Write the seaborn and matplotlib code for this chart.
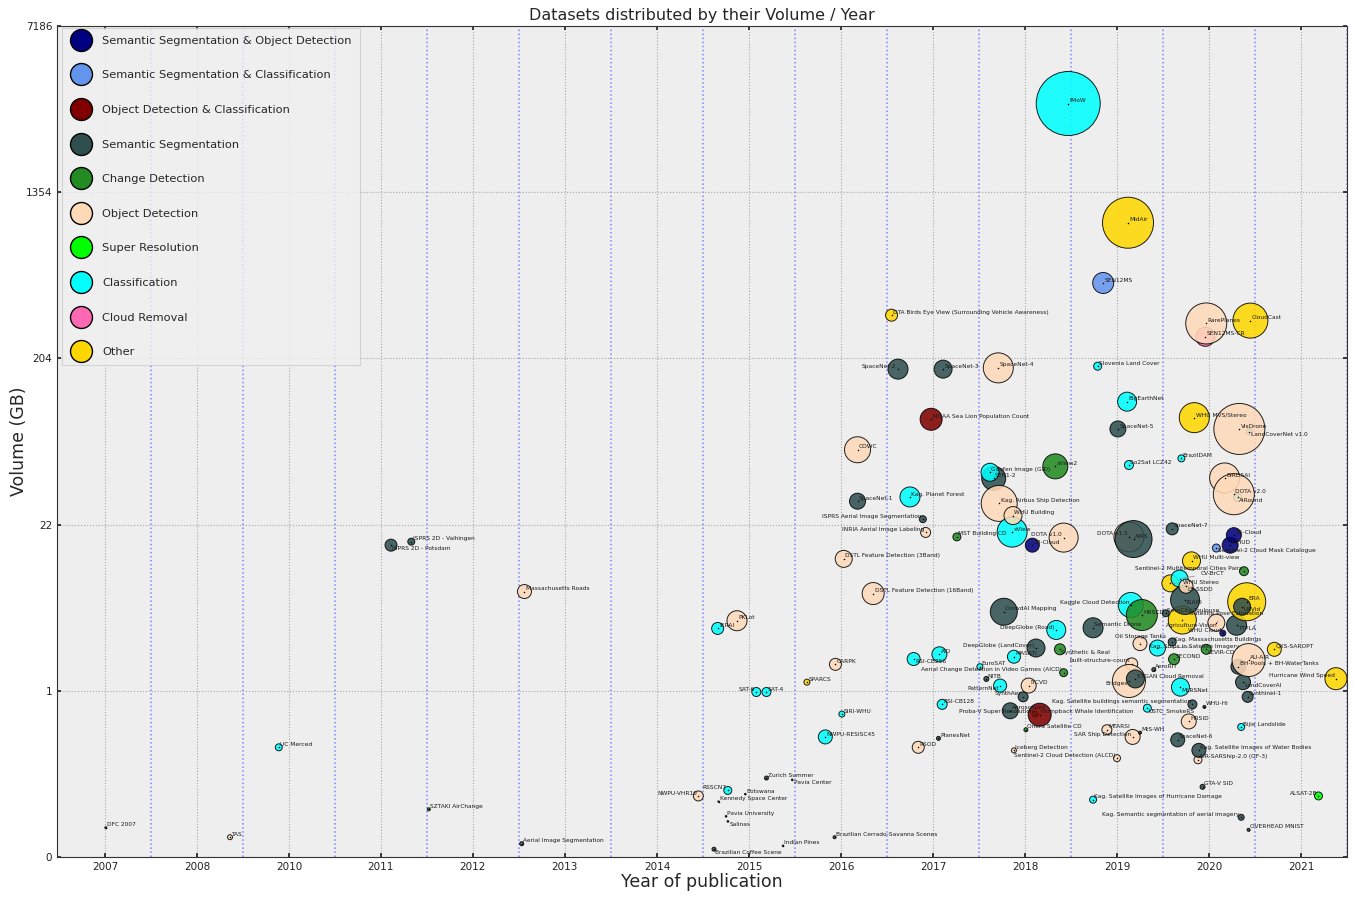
import matplotlib
matplotlib.use("Agg")
import matplotlib.pyplot as plt
from matplotlib.lines import Line2D
import numpy as np
import pandas as pd
import seaborn as sns

# y axis ticks (GB) and x axis tick labels as printed on the chart
vol_ticks = [0, 1, 22, 204, 1354, 7186]
year_ticks = list(range(2007, 2021))
year_labels = ["2007", "2008", "2010", "2011", "2012", "2013", "2014",
               "2015", "2016", "2017", "2018", "2019", "2020", "2021"]

categories = ["Semantic Segmentation & Object Detection",
              "Semantic Segmentation & Classification",
              "Object Detection & Classification",
              "Semantic Segmentation",
              "Change Detection",
              "Object Detection",
              "Super Resolution",
              "Classification",
              "Cloud Removal",
              "Other"]
colors = ["navy", "cornflowerblue", "maroon", "darkslategray", "forestgreen",
          "peachpuff", "lime", "cyan", "hotpink", "gold"]
short = ["SSOD", "SSCL", "ODCL", "SS", "CD", "OD", "SR", "CL", "CR", "OT"]

# datasets in drawing order
names = ["DFC 2007", "TAS", "UC Merced", "ISPRS 2D - Potsdam", "ISPRS 2D - Vaihingen",
         "SZTAKI AirChange", "Aerial Image Segmentation", "Massachusetts Roads", "NWPU-VHR10",
         "Brazilian Coffee Scene", "IERAI", "Kennedy Space Center", "Pavia University",
         "Salinas", "RSSCN7", "PKLot", "Botswana", "SAT-6", "SAT-4", "Zurich Summer",
         "Indian Pines", "Pavia Center", "SPARCS", "NWPU-RESISC45",
         "Brazilian Cerrado-Savanna Scenes", "CARPK", "SIRI-WHU",
         "DSTL Feature Detection (3Band)", "COWC", "SpaceNet-1",
         "DSTL Feature Detection (16Band)",
         "DTA Birds Eye View (Surrounding Vehicle Awareness)", "SpaceNet-2",
         "Kag. Planet Forest", "RSI-CB256", "RSOD", "ISPRS Aerial Image Segmentation",
         "INRIA Aerial Image Labeling", "NOAA Sea Lion Population Count", "PlanesNet", "AID",
         "RSI-CB128", "SpaceNet-3", "MST Building CD", "EuroSAT", "NITB", "SEN1-2",
         "Gaofen Image (GID)", "SpaceNet-4", "Kag. Airbus Ship Detection", "xView",
         "WHU Building", "PatternNet", "CrowdAI Mapping", "Aeroscapes", "MASATI",
         "Iceberg Detection", "SynthAer", "Onera Satellite CD", "ITCVD", "38-Cloud",
         "Proba-V Super Resolution", "DeepGlobe (LandCover)", "Humpback Whale Identification",
         "xView2", "DeepGlobe (Road)", "Synthetic & Real", "DOTA v1.0",
         "Aerial Change Detection in Video Games (AICD)", "fMoW", "Semantic Drone",
         "Kag. Satellite Images of Hurricane Damage", "Slovenia Land Cover", "SEN12MS",
         "MTARSI", "Sentinel-2 Cloud Detection (ALCD)", "SpaceNet-5", "BigEarthNet", "MidAir",
         "So2Sat LCZ42", "DOTA v1.5", "AIRS", "Kaggle Cloud Detection",
         "built-structure-count", "SAR Ship Detection", "Bridges", "STGAN Cloud Removal",
         "Oil Storage Tanks", "MtS-WH", "HRSCD", "USTC_SmokeRS", "AeroRIT",
         "Kag. Ships in Satellite Imagery", "SemCity Toulouse", "WHU Stereo", "SpaceNet-7",
         "Kag. Massachusetts Buildings", "SECOND", "SpaceNet-6", "CV-BrCT", "MLRSNet",
         "BrazilDAM", "Agriculture-Vision", "iSAID", "LS-SSDD", "HRSID", "WHU Multi-view",
         "Kag. Satellite buildings semantic segmentation", "WHU MVS/Stereo",
         "AIR-SARShip-2.0 (GF-3)", "Kag. Satellite Images of Water Bodies", "GTA-V SID",
         "WHU-Hi", "SEN12MS-CR", "RarePlanes", "LEVIR-CD", "Satellite Pose Estimation",
         "Sentinel-2 Cloud Mask Catalogue", "WHU Cloud", "BIRDSAI", "WHUD", "95-Cloud",
         "AiRound", "DOTA v2.0", "TTPLA", "BH-Pools + BH-WaterTanks", "LandCoverNet v1.0",
         "VisDrone", "Bijie Landslide", "Kag. Semantic segmentation of aerial imagery", "ERA",
         "UAVid", "LandCoverAI", "Sentinel-2 Multitemporal Cities Pairs", "Synthinel-1",
         "AU-AIR", "OVERHEAD MNIST", "CloudCast", "QXS-SAROPT", "ALSAT-2B",
         "Hurricane Wind Speed"]

cat_codes = ["SS", "OD", "CL", "SS", "SS", "CD", "SS", "OD", "OD",
             "SS", "CL", "SS", "SS", "SS", "CL", "OD", "SS", "CL", "CL", "SS",
             "SS", "SS", "OT", "CL", "SS", "OD", "CL",
             "OD", "OD", "SS", "OD", "OT", "SS",
             "CL", "CL", "OD", "SS", "OD", "ODCL", "SS", "CL",
             "CL", "SS", "CD", "CL", "SS", "SS",
             "CL", "OD", "OD", "CL", "OD", "CL", "SS", "SS", "CL",
             "OD", "SS", "CD", "OD", "SSOD", "SR", "SS", "ODCL",
             "CD", "CL", "CD", "OD", "CD", "CL", "SS",
             "CL", "CL", "SSCL", "OD", "OD", "SS", "CL", "OT",
             "CL", "OD", "SS", "CL", "OD", "OD", "OD", "SS",
             "OD", "SS", "CD", "CL", "SS", "CL", "SS", "OT", "SS",
             "SS", "CD", "SS", "CL", "CL", "CL", "OT", "SS", "OD", "OD", "OT",
             "SS", "OT", "OD", "SS", "SS", "SS", "CR", "OD", "CD", "OD",
             "SSCL", "SSOD", "OD", "SSOD", "SSOD", "CL", "OD", "SS", "SS", "CL",
             "OD", "CL", "SS", "OT", "SS", "SS", "CD", "SS", "OD", "SS", "OT", "OT", "SR",
             "OT"]

years = [2007.01, 2008.36, 2008.89, 2010.11, 2010.33, 2010.52, 2011.53, 2011.56, 2013.45,
         2013.62, 2013.66, 2013.67, 2013.75, 2013.77, 2013.77, 2013.87, 2013.96, 2014.08,
         2014.19, 2014.19, 2014.37, 2014.47, 2014.63, 2014.83, 2014.93, 2014.94, 2015.01,
         2015.03, 2015.18, 2015.18, 2015.35, 2015.55, 2015.62, 2015.75, 2015.79, 2015.84,
         2015.89, 2015.92, 2015.98, 2016.06, 2016.07, 2016.10, 2016.11, 2016.26, 2016.51,
         2016.58, 2016.66, 2016.62, 2016.71, 2016.72, 2016.86, 2016.87, 2016.73, 2016.77,
         2016.84, 2016.88, 2016.88, 2016.98, 2017.01, 2017.04, 2017.08, 2017.11, 2017.12,
         2017.16, 2017.33, 2017.34, 2017.38, 2017.42, 2017.42, 2017.47, 2017.74, 2017.74,
         2017.79, 2017.85, 2017.89, 2018.00, 2018.01, 2018.11, 2018.12, 2018.13, 2018.13,
         2018.18, 2018.15, 2018.16, 2018.17, 2018.13, 2018.20, 2018.25, 2018.25, 2018.27,
         2018.33, 2018.40, 2018.44, 2018.53, 2018.58, 2018.60, 2018.60, 2018.62, 2018.66,
         2018.68, 2018.69, 2018.70, 2018.71, 2018.74, 2018.75, 2018.78, 2018.81, 2018.82,
         2018.84, 2018.88, 2018.89, 2018.93, 2018.95, 2018.96, 2018.97, 2018.97, 2019.08,
         2019.08, 2019.15, 2019.17, 2019.23, 2019.27, 2019.31, 2019.27, 2019.30, 2019.32,
         2019.44, 2019.33, 2019.35, 2019.35, 2019.41, 2019.36, 2019.37, 2019.38, 2019.42,
         2019.43, 2019.43, 2019.45, 2019.71, 2020.19, 2020.38]

volumes = [0.13, 0.086, 0.58, 16.0, 16.9, 0.22, 0.057, 7.6, 0.29,
           0.033, 4.0, 0.26, 0.185, 0.16, 0.32, 4.6, 0.30, 0.99,
           0.99, 0.39, 0.048, 0.38, 1.27, 0.65, 0.086, 1.95, 0.815,
           12.9, 60.6, 30.3, 7.35, 334, 177, 32.1, 2.19, 0.58,
           23.7, 19.5, 91, 0.64, 2.42, 0.89, 177, 18.2, 1.85,
           1.38, 41.3, 44.8, 180, 29.4, 19.6, 24.9, 1.16, 5.39,
           0.84, 2.30, 0.56, 0.95, 0.70, 1.16, 16.0, 0.815, 2.75,
           0.81, 48.5, 3.89, 2.68, 18.0, 1.61, 3300, 4.05, 0.27,
           184, 482, 0.70, 0.51, 80, 115, 957, 49.4, 18.2,
           17.6, 6.06, 1.97, 0.65, 1.31, 1.38, 3.0, 0.68, 5.09,
           0.86, 1.73, 2.75, 5.25, 8.7, 20.6, 3.10, 2.18, 0.63,
           9.4, 1.11, 54, 4.66, 6.6, 8.3, 0.76, 12.5, 0.89,
           93, 0.50, 0.56, 0.34, 0.87, 261, 304, 2.68, 4.44,
           15.3, 3.66, 41.5, 16.0, 18.7, 31.9, 33.3, 4.24, 1.85,
           77, 80, 0.72, 0.18, 6.4, 5.88, 1.27, 10.6, 0.95,
           2.14, 0.12, 314, 2.68, 0.29, 1.39]

# relative bubble weight
weights = [2, 5, 7, 12, 7, 3, 4, 14, 10,
           4, 12, 1.5, 1.5, 1.5, 8, 20, 1.5, 9,
           9, 4, 1.5, 1.5, 6, 14, 3, 12, 6,
           17, 26, 16, 22, 12, 20, 20, 13, 12,
           7, 10, 22, 4, 15, 10, 18, 8, 6,
           5, 24, 18, 30, 36, 30, 18, 13, 27,
           16, 13, 5, 10, 4, 15, 14, 6, 18,
           23, 25, 19, 11, 29, 8, 64, 20, 7,
           8, 21, 10, 7, 16, 19, 51, 9, 30,
           37, 25, 12, 15, 33, 18, 14, 3, 31,
           8, 4, 16, 7, 17, 12, 8, 11, 14,
           17, 18, 7, 28, 29, 14, 15, 18, 9,
           30, 8, 14, 5, 3, 19, 41, 10, 17,
           8, 6, 30, 16, 15, 8, 41, 20, 15,
           6, 51, 7, 6, 38, 17, 15, 9, 11,
           33, 3, 35, 14, 8, 22]

# label placement tweaks
left_side = {"NWPU-VHR10", "RSSCN7", "SAT-6", "SpaceNet-2", "ISPRS Aerial Image Segmentation",
             "INRIA Aerial Image Labeling", "DeepGlobe (Road)", "DeepGlobe (LandCover)",
             "Aerial Change Detection in Video Games (AICD)", "Proba-V Super Resolution",
             "Sentinel-2 Cloud Detection (ALCD)", "Kag. Satellite buildings semantic segmentation",
             "SAR Ship Detection", "Kag. Semantic segmentation of aerial imagery", "ALSAT-2B",
             "Hurricane Wind Speed", "Kaggle Cloud Detection", "DOTA v1.5", "DOTA v1.0",
             "Sentinel-2 Multitemporal Cities Pairs", "built-structure-count", "Bridges",
             "PatternNet", "SynthAer", "WHU Cloud"}
below = {"ISPRS 2D - Potsdam", "Salinas", "Pavia Center", "Brazilian Coffee Scene",
         "USTC_SmokeRS", "LandCoverAI", "MLRSNet", "TTPLA", "UAVid", "iSAID", "LS-SSDD",
         "Sentinel-2 Cloud Mask Catalogue", "LandCoverNet v1.0", "AiRound", "RSI-CB256",
         "Synthetic & Real", "PatternNet", "Bridges", "LEVIR-CD"}
moved = {"CV-BrCT": (15, 2), "Oil Storage Tanks": (-18, 3), "WHU Stereo": (9, -1),
         "Agriculture-Vision": (-12, -6), "Satellite Pose Estimation": (-19, 5),
         "Kag. Ships in Satellite Imagery": (-6, -1)}

df = pd.DataFrame({"name": names, "year": years, "volume": volumes, "weight": weights})
df["task"] = [categories[short.index(c)] for c in cat_codes]
df["area"] = df["weight"] ** 2

sns.set_theme(style="ticks", rc={
    "axes.facecolor": "#eeeeee",
    "axes.edgecolor": "#333333",
    "axes.linewidth": 0.8,
    "grid.color": "#a8a8a8",
    "grid.linestyle": ":",
    "grid.linewidth": 0.8,
    "xtick.direction": "in",
    "ytick.direction": "in",
    "xtick.top": True,
    "ytick.right": True,
    "xtick.major.size": 3,
    "ytick.major.size": 3,
})
plt.rcParams["font.family"] = ["DejaVu Sans"]

fig, ax = plt.subplots(figsize=(13.55, 8.97), dpi=100)
fig.subplots_adjust(left=0.0421, right=0.9941, bottom=0.0446, top=0.971)

log_ticks = np.log1p(vol_ticks)
steps = np.arange(len(vol_ticks), dtype=float)


def fwd(v):
    return np.interp(np.log1p(np.clip(v, 0, None)), log_ticks, steps)


def inv(u):
    return np.expm1(np.interp(u, steps, log_ticks))


ax.set_yscale("function", functions=(fwd, inv))

wmax = max(weights)
sns.scatterplot(data=df, x="year", y="volume", hue="task", hue_order=categories,
                palette=dict(zip(categories, colors)), size="area",
                sizes=(0, (0.72 * wmax) ** 2), size_norm=(0, wmax ** 2),
                alpha=0.87, edgecolor="black", linewidth=0.7, legend=False, ax=ax)
sns.scatterplot(data=df, x="year", y="volume", color="black", s=1.2, linewidth=0,
                legend=False, ax=ax)

for _, r in df.iterrows():
    ha = "right" if r["name"] in left_side else "left"
    va = "top" if r["name"] in below else "bottom"
    dx = -1 if ha == "right" else 1
    dy = -0.3 if va == "top" else 0.3
    arrow = None
    if r["name"] in moved:
        dx, dy = moved[r["name"]]
        arrow = dict(arrowstyle="-", color="#888888", lw=0.5)
    ax.annotate(r["name"], (r["year"], r["volume"]), xytext=(dx, dy),
                textcoords="offset points", ha=ha, va=va, fontsize=4.2,
                color="#1a1a1a", arrowprops=arrow)

for xv in np.arange(2007.5, 2021, 1.0):
    ax.axvline(xv, color="#8080ff", ls=":", lw=1.1, zorder=0.5)

ax.set_xlim(2006.48, 2020.5)
ax.set_ylim(0, 7186)
ax.set_xticks(year_ticks)
ax.set_xticklabels(year_labels)
ax.set_yticks(vol_ticks)
ax.set_yticklabels([str(v) for v in vol_ticks])
ax.yaxis.set_minor_locator(matplotlib.ticker.NullLocator())
ax.tick_params(labelsize=7.5, colors="#222222")
ax.grid(True)
ax.set_axisbelow(True)

ax.set_title("Datasets distributed by their Volume / Year", fontsize=11.5, pad=4)
ax.set_xlabel("Year of publication", fontsize=12.5, labelpad=1)
ax.set_ylabel("Volume (GB)", fontsize=12.5, labelpad=-1.5)

handles = [Line2D([0], [0], marker="o", ls="", markerfacecolor=c, markeredgecolor="black",
                  markeredgewidth=1.0, markersize=15.8) for c in colors]
leg = ax.legend(handles, categories, loc="upper left", bbox_to_anchor=(0.004, 0.998),
                borderaxespad=0, fontsize=8.2, labelspacing=2.16, borderpad=0.72,
                handletextpad=0.9, handlelength=1.9, frameon=True, facecolor="#f0f0f0",
                edgecolor="#cccccc", fancybox=False)
leg.get_frame().set_linewidth(0.8)

fig.savefig("out.png", dpi=100)
